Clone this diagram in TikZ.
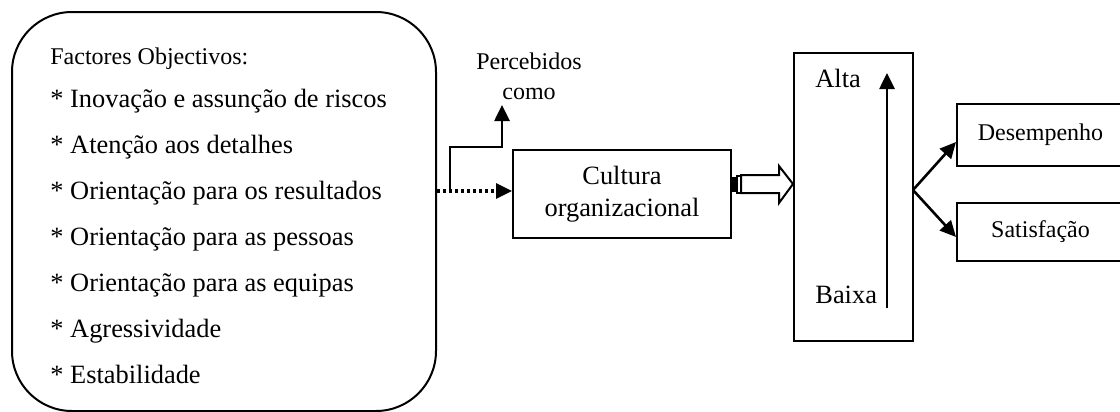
\documentclass[tikz,border=0pt]{standalone}
\usepackage{fontspec}
\setmainfont{Liberation Serif}
\usetikzlibrary{arrows.meta}

\begin{document}
\begin{tikzpicture}[x=0.5pt,y=-0.5pt,
  caixa/.style={draw,line width=1pt,inner sep=0pt},
  seta/.style={line width=1.3pt,-{Triangle[length=8pt,width=7.5pt]}},
  pontilhado/.style={line width=1.6pt,dash pattern=on 1.5pt off 1.5pt,-{Triangle[length=8pt,width=7.5pt]}},
  item/.style={anchor=base west,inner sep=0pt,font=\fontsize{13.2}{16}\selectfont},
  pequeno/.style={inner sep=0pt,font=\fontsize{12}{15}\selectfont}]
\useasboundingbox (0,0) rectangle (1120,412);
% Caixas
\node[caixa,rounded corners=30pt,minimum width=212pt,minimum height=199.5pt] (fatores) at (224,211.5) {};
\node[caixa,minimum width=109pt,minimum height=44pt,align=center,font=\fontsize{13.2}{16}\selectfont] (cultura) at (622,194) {Cultura\\organizacional};
\node[caixa,minimum width=59.5pt,minimum height=144pt] (nivel) at (853.5,197) {};
\node[caixa,pequeno,minimum width=83.5pt,minimum height=31pt] (desemp) at (1040.5,135) {Desempenho};
\node[caixa,pequeno,minimum width=83.5pt,minimum height=29pt] (satisf) at (1040.5,232) {Satisfação};
% Textos da caixa da esquerda
\node[pequeno,anchor=base west] (titulo) at (50,64) {Factores Objectivos:};
\node[item] (f1) at (50,107) {* Inovação e assunção de riscos};
\node[item] (f2) at (50,153) {* Atenção aos detalhes};
\node[item] (f3) at (50,199) {* Orientação para os resultados};
\node[item] (f4) at (50,245) {* Orientação para as pessoas};
\node[item] (f5) at (50,291) {* Orientação para as equipas};
\node[item] (f6) at (50,337) {* Agressividade};
\node[item] (f7) at (50,383) {* Estabilidade};
% Percebidos como
\node[pequeno,align=center] (percebidos) at (529,76) {Percebidos\\como};
\coordinate (split) at (450,191);
\coordinate (cotovelo) at (502,147);
\coordinate (ponta) at (502,105);
\draw[pontilhado] (fatores.east |- split) -- (cultura.west |- split);
\draw[seta] (split) |- (cotovelo) -- (ponta);
% Seta dupla
\fill (732,177) rectangle (737,192);
\draw[line width=0.8pt] (737,176) rectangle (741,193);
\draw[line width=1pt,line join=miter] (741,175) -- (779,175) -- (779,166) -- (793,184)
  -- (779,203) -- (779,193) -- (741,193) -- cycle;
% Alta / Baixa
\node[item] (alta) at (815,87) {Alta};
\node[item] (baixa) at (815,303) {Baixa};
\coordinate (baixo) at (887,308);
\coordinate (cima) at (887,73);
\draw[seta] (baixo) -- (cima);
% Resultados
\coordinate (fork) at (913,190);
\draw[seta] (fork) -- ([yshift=-3.5pt]desemp.west);
\draw[seta] (fork) -- ([yshift=-2.5pt]satisf.west);
\end{tikzpicture}
\end{document}
